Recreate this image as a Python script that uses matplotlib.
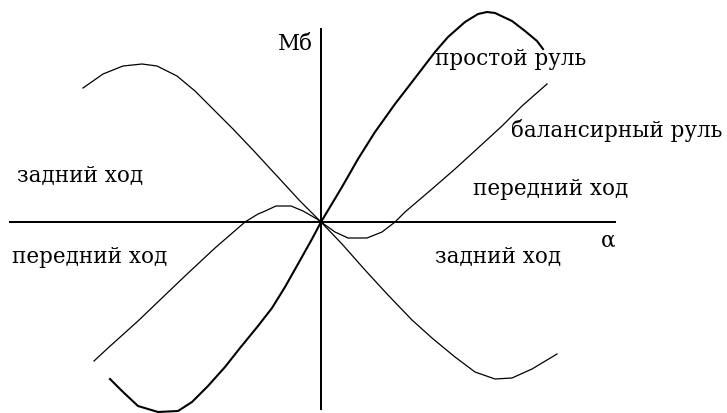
import matplotlib
matplotlib.use("Agg")
import numpy as np
from matplotlib import pyplot as plt

# Момент на баллере Мб в зависимости от угла перекладки α (условные единицы)
# простой руль
simple_alpha = [-211, -199, -183, -163, -143, -129, -113, -96, -81, -63, -49, -36, -23, -9, 0,
                21, 37, 54, 74, 91, 104, 114, 127, 144, 157, 166, 174, 191, 204, 216, 222]
simple_m = [-157, -169, -184, -190, -189, -180, -164, -145, -126, -104, -86, -65, -42, -17, 0,
            35, 63, 90, 118, 140, 157, 170, 185, 200, 208, 210, 209, 201, 191, 181, 173]

# балансирный руль
balance_alpha = [-227, -213, -183, -159, -136, -106, -76, -63, -58, -45, -30, -18, -4, 0,
                 14, 27, 46, 61, 74, 84, 111, 134, 157, 181, 201, 226]
balance_m = [-139, -126, -99, -76, -54, -26, 0, 8, 10, 16, 16, 11, 3, 0,
             -10, -16, -16, -10, 0, 10, 33, 53, 74, 96, 116, 138]

# задний ход
reverse_alpha = [-238, -218, -198, -179, -164, -144, -126, -108, -88, -68, -44, -21, 0,
                 21, 44, 67, 91, 111, 134, 154, 174, 191, 211, 236]
reverse_m = [134, 148, 156, 158, 156, 146, 131, 113, 93, 72, 46, 21, 0,
             -22, -48, -73, -98, -116, -135, -150, -157, -156, -147, -132]

# пределы осей
alpha_span = (-311, 294)
m_span = (-187, 193)

plt.rcParams['font.family'] = ['DejaVu Serif']

fig = plt.figure(figsize=(7.27, 4.14), dpi=100)
ax = fig.add_axes([0, 0, 1, 1])
ax.set_xlim(-321, 406)
ax.set_ylim(-191, 223)
ax.axis('off')

# оси
ax.plot(alpha_span, [0, 0], color='black', lw=1.3, antialiased=False)
ax.plot([0, 0], m_span, color='black', lw=1.3, antialiased=False)

ax.plot(reverse_alpha, reverse_m, color='black', lw=0.9)
ax.plot(balance_alpha, balance_m, color='black', lw=0.9)
ax.plot(simple_alpha, simple_m, color='black', lw=1.5)

fs = 15.5
ax.text(-8, 173, 'Мб', fontsize=fs, ha='right', va='baseline')
ax.text(294, -24, 'α', fontsize=fs, ha='right', va='baseline')
ax.text(114, 158, 'простой руль', fontsize=fs, ha='left', va='baseline')
ax.text(190, 86, 'балансирный руль', fontsize=fs, ha='left', va='baseline')
ax.text(152, 28, 'передний ход', fontsize=fs, ha='left', va='baseline')
ax.text(-304, 42, 'задний ход', fontsize=fs, ha='left', va='baseline')
ax.text(-309, -40, 'передний ход', fontsize=fs, ha='left', va='baseline')
ax.text(114, -39, 'задний ход', fontsize=fs, ha='left', va='baseline')

fig.savefig('out.png', dpi=100, facecolor='white')
